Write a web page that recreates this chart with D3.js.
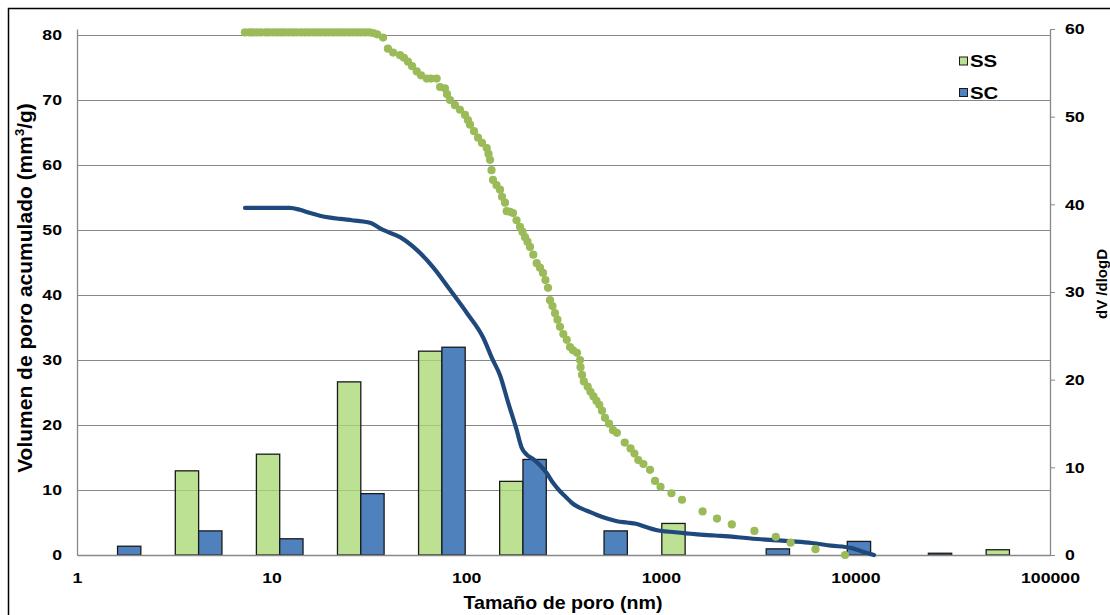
<!DOCTYPE html>
<html>
<head>
<meta charset="utf-8">
<script src="https://cdn.jsdelivr.net/npm/d3@7"></script>
<style>
  body { margin: 0; background: #fff; }
  svg text { font-family: "Liberation Sans", Arial, sans-serif; font-weight: bold; fill: #000; }
</style>
</head>
<body>
<svg id="chart" width="1110" height="615"></svg>
<script>
// Pore-size bins of the dV/dlogD histogram (nominal bin centre, nm)
const binLabels = ["1.6", "4.2", "11", "29", "75", "196", "511", "1330", "3480", "9090", "23700", "61900"];
// dV/dlogD per bin, right axis
const ssBars = [0, 9.6, 11.5, 19.75, 23.25, 8.4, 0, 3.6, 0, 0, 0, 0.6];
const scBars = [1.0, 2.75, 1.85, 7.0, 23.7, 10.9, 2.75, 0, 0.7, 1.55, 0.2, 0];

// Cumulative intruded volume (mm3/g) against pore size (nm), left axis
const ssCumulative = [
  [7.3,80.4],[7.7,80.4],[8.0,80.4],[8.4,80.4],[8.8,80.4],[9.3,80.4],[9.7,80.4],[10.2,80.4],
  [10.7,80.4],[11.2,80.4],[11.7,80.4],[12.3,80.4],[12.9,80.4],[13.5,80.4],[14.2,80.4],[14.9,80.4],
  [15.6,80.4],[16.4,80.4],[17.2,80.4],[18.0,80.4],[18.9,80.4],[19.8,80.4],[20.8,80.4],[21.8,80.4],
  [22.8,80.4],[23.9,80.4],[25.1,80.4],[26.3,80.4],[27.6,80.4],[28.9,80.4],[30.3,80.4],[31.8,80.4],
  [33.3,80.3],[34.9,80.1],[37.4,79.6],[39.6,77.9],[42.1,77.3],[45.7,76.9],[47.9,76.5],[50.2,75.9],
  [52.7,75.2],[55.7,74.4],[58.6,73.8],[62.7,73.3],[65.9,73.3],[70.5,73.3],[73.4,72.0],[77.8,71.8],
  [79.7,70.9],[82.6,70.0],[87.6,69.2],[92.9,68.5],[98.6,67.7],[102.1,66.9],[104.6,66.2],[109.7,65.2],
  [115.0,64.2],[120.6,63.4],[127.5,62.6],[130.2,61.7],[132.6,60.8],[134.9,59.2],[137.3,57.7],[143.1,56.9],
  [149.2,56.2],[152.8,55.1],[158.3,54.2],[161.5,52.9],[168.0,52.8],[174.0,52.6],[181.4,51.5],[189.0,50.5],
  [194.7,49.7],[200.5,48.9],[206.5,48.2],[212.8,47.4],[221.2,46.2],[230.3,44.9],[239.4,44.2],[248.1,43.4],
  [255.5,42.3],[263.2,41.1],[269.5,39.2],[277.6,38.3],[286.0,37.2],[294.5,36.2],[303.4,35.1],[315.5,34.0],
  [328.5,33.1],[341.6,32.0],[353.9,31.5],[371.0,31.1],[384.5,30.0],[386.8,28.9],[393.7,27.7],[402.1,26.7],
  [421.0,25.9],[435.2,25.1],[450.9,24.4],[467.2,23.7],[483.0,23.1],[498.7,22.2],[516.7,21.1],[541.7,20.2],
  [568.0,19.2],[594.9,18.8],[652.5,17.3],[698.9,16.4],[731.9,15.6],[766.3,14.6],[813.9,14.0],[880,13.1],
  [934,11.4],[997,10.5],[1134,9.5],[1285,8.5],[1640,6.7],[1945,5.6],[2317,4.7],[3027,3.7],
  [3899,2.8],[4645,1.9],[6237,0.9],[8844,0.0]
];
const scCumulative = [
  [7.3,53.4],[9.8,53.4],[12.4,53.4],[14.0,53.1],[15.8,52.6],[17.7,52.2],[20.0,51.9],[22.5,51.7],
  [25.9,51.5],[29.5,51.3],[32.0,51.1],[37.4,50.0],[45.7,48.9],[55.9,46.9],[67.5,44.3],[82.6,40.8],
  [101,37.2],[122,33.5],[137,30.0],[149,27.7],[164.5,23.4],[181.8,19.2],[192.8,16.5],[205.3,15.4],
  [220.4,14.8],[239.4,13.8],[259.2,12.6],[279.3,11.1],[303.4,9.8],[325.7,8.9],[349.7,8.0],[375.4,7.4],
  [417.6,6.8],[470,6.15],[529,5.6],[595.6,5.2],[670.5,5.0],[745.9,4.8],[839.5,4.3],[944.8,3.85],
  [1183,3.5],[1499,3.2],[1899,3.0],[2378,2.8],[2977,2.5],[3773,2.3],[4724,2.1],[5957,1.85],
  [7493,1.45],[9447,1.1],[10810,0.55],[12460,0.0]
];

const xTicks = [1, 10, 100, 1000, 10000, 100000];
const yLeftTicks = [0, 10, 20, 30, 40, 50, 60, 70, 80];
const yRightTicks = [0, 10, 20, 30, 40, 50, 60];
const seriesNames = ["SS", "SC"];

const colors = {
  ssBar: "#a9d875", scBar: "#4f81bd", barStroke: "#1a1a1a",
  ssCum: "#9bbb59", scCum: "#1f497d", grid: "#888888", axis: "#888888"
};

const svg = d3.select("#chart");
const plot = { left: 77, right: 1050, top: 29, bottom: 555 };

const x = d3.scaleLog().domain([1, 1e5]).range([plot.left, plot.right]);
const yL = d3.scaleLinear().domain([0, 80.92]).range([plot.bottom, plot.top]);
const yR = d3.scaleLinear().domain([0, 60]).range([plot.bottom, plot.top]);
const band = d3.scaleBand().domain(binLabels).range([plot.left, plot.right])
  .paddingInner(0.425).paddingOuter(0.2125);
const sub = d3.scaleBand().domain(seriesNames).range([0, band.bandwidth()]);

// stretch a text element horizontally about its anchor x
function stretch(sel, s) {
  sel.each(function () {
    const t = d3.select(this);
    const ax = +t.attr("x") || 0;
    t.attr("transform", `translate(${ax},0) scale(${s},1) translate(${-ax},0)`);
  });
}

// outer frame
svg.append("rect").attr("x", 8.5).attr("y", 8.5).attr("width", 1120).attr("height", 640)
  .attr("fill", "none").attr("stroke", "#000").attr("stroke-width", 1.5);

// horizontal gridlines (left axis)
svg.append("g").selectAll("line").data(yLeftTicks.filter(d => d > 0)).join("line")
  .attr("x1", plot.left).attr("x2", plot.right)
  .attr("y1", d => Math.round(yL(d)) + 0.5).attr("y2", d => Math.round(yL(d)) + 0.5)
  .attr("stroke", colors.grid).attr("stroke-width", 1.2);

// histogram bars
const barData = [];
binLabels.forEach((b, i) => {
  barData.push({ bin: b, key: "SS", v: ssBars[i] });
  barData.push({ bin: b, key: "SC", v: scBars[i] });
});
svg.append("g").selectAll("rect").data(barData.filter(d => d.v > 0)).join("rect")
  .attr("x", d => band(d.bin) + sub(d.key))
  .attr("width", sub.bandwidth())
  .attr("y", d => yR(d.v))
  .attr("height", d => yR(0) - yR(d.v))
  .attr("fill", d => d.key === "SS" ? colors.ssBar : colors.scBar)
  .attr("fill-opacity", d => d.key === "SS" ? 0.78 : 1)
  .attr("stroke", colors.barStroke).attr("stroke-width", 1.3);

// axes
const fontTick = 15.5;
const gL = svg.append("g").attr("transform", `translate(${plot.left},0)`)
  .call(d3.axisLeft(yL).tickValues(yLeftTicks).tickSize(0).tickPadding(15).tickFormat(d3.format("d")));
const gR = svg.append("g").attr("transform", `translate(${plot.right},0)`)
  .call(d3.axisRight(yR).tickValues(yRightTicks).tickSizeInner(5).tickSizeOuter(0).tickPadding(10).tickFormat(d3.format("d")));
const gB = svg.append("g").attr("transform", `translate(0,${plot.bottom})`)
  .call(d3.axisBottom(x).tickValues(xTicks).tickSize(0).tickPadding(17).tickFormat(d3.format("d")));
[gL, gR, gB].forEach(g => {
  g.attr("font-family", null).attr("font-size", fontTick);
  g.select(".domain").attr("stroke", colors.axis).attr("stroke-width", 1.3);
  g.selectAll(".tick line").attr("stroke", colors.axis);
  stretch(g.selectAll(".tick text"), 1.14);
});

// cumulative curve SC (line)
svg.append("path").datum(scCumulative)
  .attr("d", d3.line().x(d => x(d[0])).y(d => yL(d[1])).curve(d3.curveMonotoneX))
  .attr("fill", "none").attr("stroke", colors.scCum).attr("stroke-width", 4.2)
  .attr("stroke-linejoin", "round").attr("stroke-linecap", "round");

// cumulative curve SS (dots)
svg.append("g").selectAll("circle").data(ssCumulative).join("circle")
  .attr("cx", d => x(d[0])).attr("cy", d => yL(d[1])).attr("r", 4.1)
  .attr("fill", colors.ssCum);

// legend
const legend = svg.append("g");
seriesNames.forEach((name, i) => {
  const yy = 61.5 + i * 31.5;
  legend.append("rect").attr("x", 959.5).attr("y", yy - 4.5).attr("width", 8).attr("height", 8)
    .attr("fill", i === 0 ? colors.ssBar : colors.scBar).attr("fill-opacity", i === 0 ? 0.78 : 1)
    .attr("stroke", colors.barStroke).attr("stroke-width", 1);
  const t = legend.append("text").attr("x", 970).attr("y", yy).attr("dy", "0.35em")
    .attr("font-size", 17).text(name);
  stretch(t, 1.2);
});

// axis titles
const xt = svg.append("text").attr("x", 563).attr("y", 609).attr("text-anchor", "middle")
  .attr("font-size", 18).text("Tamaño de poro (nm)");
stretch(xt, 1.09);

const lt = svg.append("text").attr("transform", "translate(32,288) rotate(-90)")
  .attr("text-anchor", "middle").attr("font-size", 21);
lt.append("tspan").text("Volumen de poro acumulado (mm");
lt.append("tspan").attr("font-size", 13).attr("dy", -8).text("3");
lt.append("tspan").attr("dy", 8).text("/g)");

svg.append("text").attr("transform", "translate(1107,284) rotate(-90)")
  .attr("text-anchor", "middle").attr("font-size", 15).text("dV /dlogD");
</script>
</body>
</html>
